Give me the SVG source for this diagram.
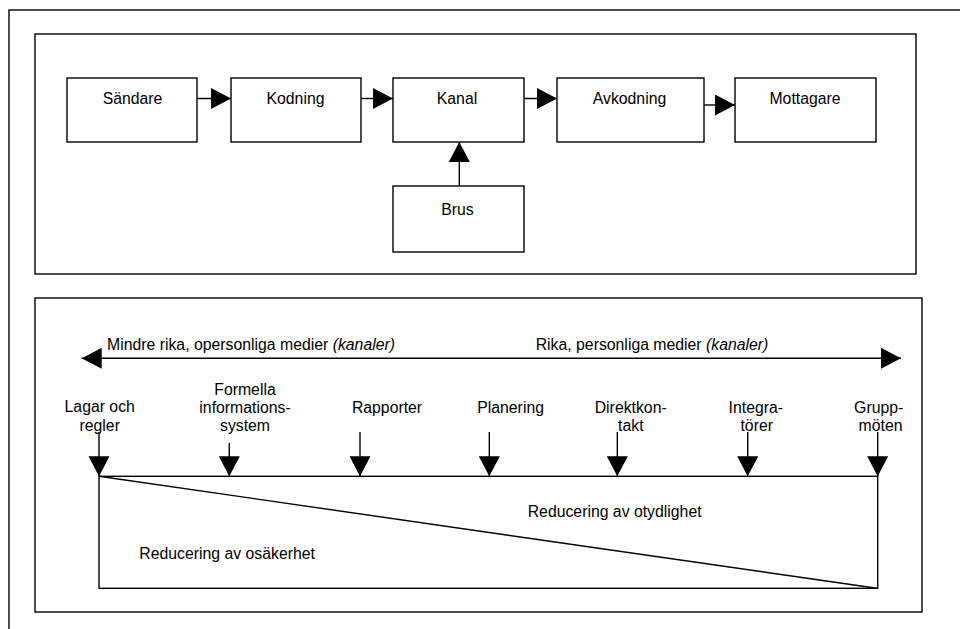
<svg xmlns="http://www.w3.org/2000/svg" width="960" height="629" viewBox="0 0 960 629">
<style>
.frame{fill:none;stroke:#000;stroke-width:1.4}
.box{fill:#fff;stroke:#000;stroke-width:1.4}
.ln{fill:none;stroke:#000;stroke-width:1.4}
text{font-family:"Liberation Sans",Arial,sans-serif;font-size:15.8px;fill:#000}
.c{text-anchor:middle}
</style>
<defs>
<marker id="ah" markerUnits="userSpaceOnUse" markerWidth="20" markerHeight="22" refX="20" refY="10.5" orient="auto-start-reverse">
<path d="M0,0 L20,10.5 L0,21 z" fill="#000"/>
</marker>
</defs>
<rect class="frame" x="9" y="10" width="1000" height="700"/>
<rect class="frame" x="35" y="34" width="881" height="240"/>
<rect class="frame" x="35" y="298" width="887" height="314"/>

<g id="sandare"><rect class="box" x="67" y="78" width="130" height="64"/><text class="c" x="132.5" y="104">Sändare</text></g>
<g id="kodning"><rect class="box" x="231" y="78" width="130" height="64"/><text class="c" x="295.5" y="104">Kodning</text></g>
<g id="kanal"><rect class="box" x="393" y="78" width="131" height="64"/><text class="c" x="457" y="104">Kanal</text></g>
<g id="avkodning"><rect class="box" x="557" y="78" width="147" height="64"/><text class="c" x="629.5" y="104">Avkodning</text></g>
<g id="mottagare"><rect class="box" x="735" y="78" width="141" height="64"/><text class="c" x="805" y="104">Mottagare</text></g>
<g id="brus"><rect class="box" x="393" y="186" width="131" height="66"/><text class="c" x="457.5" y="215">Brus</text></g>

<g id="connectors">
<line class="ln" x1="197" y1="98.5" x2="231" y2="98.5" marker-end="url(#ah)"/>
<line class="ln" x1="361" y1="98.5" x2="393" y2="98.5" marker-end="url(#ah)"/>
<line class="ln" x1="524" y1="98.5" x2="557" y2="98.5" marker-end="url(#ah)"/>
<line class="ln" x1="704" y1="105" x2="735" y2="105" marker-end="url(#ah)"/>
<line class="ln" x1="459.3" y1="186" x2="459.3" y2="142" marker-end="url(#ah)"/>
</g>

<g id="media-scale">
<line class="ln" x1="81.7" y1="358.3" x2="901" y2="358.3" marker-start="url(#ah)" marker-end="url(#ah)"/>
<text x="107" y="349.5">Mindre rika, opersonliga medier <tspan font-style="italic">(kanaler)</tspan></text>
<text x="535.7" y="349.5">Rika, personliga medier <tspan font-style="italic">(kanaler)</tspan></text>
</g>

<g id="channels">
<g id="lagar"><text class="c" x="99.7" y="412">Lagar och</text><text class="c" x="99.7" y="430.5">regler</text><line class="ln" x1="99" y1="432" x2="99" y2="476.3" marker-end="url(#ah)"/></g>
<g id="formella"><text class="c" x="245" y="394.5">Formella</text><text class="c" x="245" y="412.5">informations-</text><text class="c" x="245" y="430.5">system</text><line class="ln" x1="229.3" y1="443" x2="229.3" y2="476.3" marker-end="url(#ah)"/></g>
<g id="rapporter"><text class="c" x="387" y="412.5">Rapporter</text><line class="ln" x1="360" y1="432" x2="360" y2="476.3" marker-end="url(#ah)"/></g>
<g id="planering"><text class="c" x="510.6" y="412.5">Planering</text><line class="ln" x1="489.3" y1="432" x2="489.3" y2="476.3" marker-end="url(#ah)"/></g>
<g id="direktkontakt"><text class="c" x="630.7" y="412.5">Direktkon-</text><text class="c" x="630.8" y="430.5">takt</text><line class="ln" x1="617.3" y1="432" x2="617.3" y2="476.3" marker-end="url(#ah)"/></g>
<g id="integratorer"><text class="c" x="755.8" y="412.5">Integra-</text><text class="c" x="756.7" y="430.5">törer</text><line class="ln" x1="747.7" y1="432" x2="747.7" y2="476.3" marker-end="url(#ah)"/></g>
<g id="gruppmoten"><text class="c" x="878.7" y="412.5">Grupp-</text><text class="c" x="880.5" y="430.5">möten</text><line class="ln" x1="877.7" y1="432" x2="877.7" y2="476.3" marker-end="url(#ah)"/></g>
</g>

<g id="reduction">
<rect class="ln" x="99" y="476.3" width="778.7" height="112"/>
<line class="ln" x1="99" y1="476.3" x2="876.7" y2="588.3"/>
<text x="527.7" y="517.3">Reducering av otydlighet</text>
<text x="139.3" y="559">Reducering av osäkerhet</text>
</g>
</svg>
